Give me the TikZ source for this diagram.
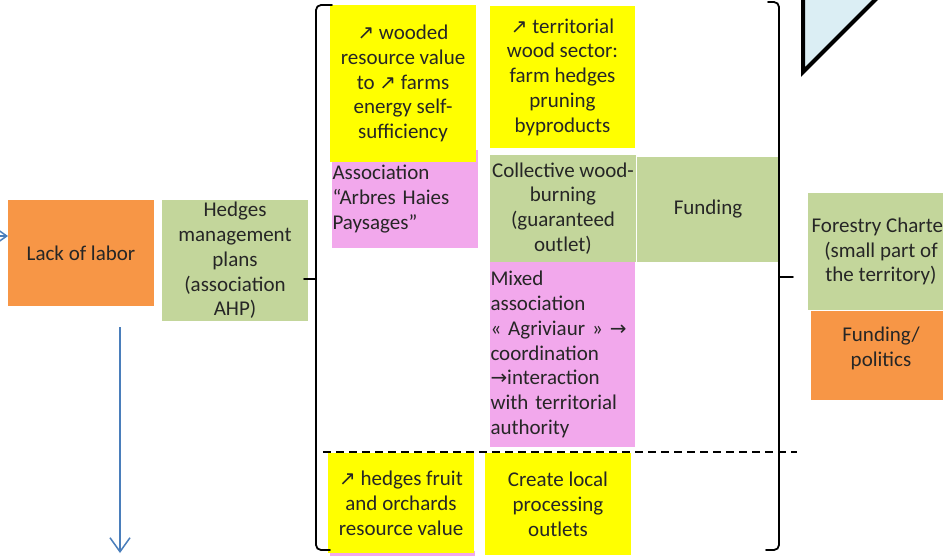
\documentclass[tikz,border=0pt]{standalone}
\usepackage{fontspec}
\setmainfont{Carlito}
\newfontfamily\symfont[Scale=0.95]{DejaVu Sans}
\usetikzlibrary{arrows.meta}
\definecolor{orangeb}{HTML}{F79646}
\definecolor{greenb}{HTML}{C3D69B}
\definecolor{yellowb}{HTML}{FFFF00}
\definecolor{pinkb}{HTML}{F2A8EC}
\definecolor{blueln}{HTML}{4A7EBB}
\definecolor{lightblue}{HTML}{DBEEF4}
\definecolor{txtc}{HTML}{262626}
\newcommand{\upar}{{\symfont ↗}}
\newcommand{\rar}{{\symfont →}}
\begin{document}
\begin{tikzpicture}[x=1pt,y=-1pt,
  box/.style={anchor=north west, inner sep=0pt, outer sep=0pt, align=center, text=txtc, font=\fontsize{21}{24.8}\selectfont},
  leftbox/.style={box, align=left, inner xsep=0.5pt},
  brace/.style={line width=1.8pt, line join=round, line cap=round},
  dashline/.style={line width=1.8pt, dash pattern=on 8pt off 5pt},
  bluearrow/.style={draw=blueln, line width=1.5pt, -{Straight Barb[length=14pt,width=20pt]}}]
\useasboundingbox (0,0) rectangle (943,555);
\clip (0,0) rectangle (943,555);
\fill[white] (0,0) rectangle (943,555);

% left column
\node[box, fill=orangeb, minimum width=146, minimum height=106] (lack) at (8,200) {Lack of labor};
\node[box, fill=greenb, minimum width=146, minimum height=121] (hmp) at (162,200) {Hedges\\management\\plans\\(association\\AHP)};

% middle column
\node[leftbox, fill=pinkb, minimum width=146, minimum height=98, text width=145] (assoc) at (332,150) {Association\\“Arbres Haies\\Paysages”};
\node[box, fill=yellowb, minimum width=146, minimum height=157] (y1) at (330,5) {\upar{} wooded\\resource value\\to \upar{} farms\\energy self-\\sufficiency};
\node[box, fill=yellowb, minimum width=145, minimum height=142] (y2) at (490,6) {\upar{} territorial\\wood sector:\\farm hedges\\pruning\\byproducts};
\node[box, fill=greenb, minimum width=142, minimum height=105] (fund) at (637,157) {Funding};
\node[box, fill=greenb, minimum width=146, minimum height=107] (coll) at (490,155) {Collective wood-\\burning\\(guaranteed\\outlet)};
\node[leftbox, fill=pinkb, minimum width=145, minimum height=185, text width=144] (mixed) at (490,262) {Mixed\\association\\« Agriviaur » \rar\\coordination\\\rar interaction\\with territorial\\authority};

\node[box, fill=pinkb, minimum width=145, minimum height=5] (strip) at (330,551) {};
\node[box, fill=yellowb, minimum width=146, minimum height=100] (y3) at (328,453) {\upar{} hedges fruit\\and orchards\\resource value};
\node[box, fill=yellowb, minimum width=146, minimum height=102] (y4) at (485,453) {Create local\\processing\\outlets};

% right column
\node[box, fill=greenb, minimum width=146, minimum height=117] (forest) at (808,193) {Forestry Charter\\(small part of\\the territory)};
\node[box, fill=orangeb, minimum width=140, minimum height=89] (fpol) at (811,311) {};
\node[box, anchor=center] (fpoltext) at ([yshift=7pt]fpol.center) {Funding/\\politics};

% triangle
\draw[line width=4pt, fill=lightblue, line join=miter] (803,-20) -- (803,72) -- (895,-20) -- cycle;

% dashed separator
\coordinate (d1) at (323,452);
\coordinate (d2) at (797,452);
\draw[dashline] (d1) -- (d2);

% braces
\draw[brace, rounded corners=5pt] (332,5) -- (316,5) -- (316,550) -- (330,550);
\draw[brace] (316,279) -- (304,279);
\draw[brace, rounded corners=5pt] (768,2) -- (779,2) -- (779,550) -- (766,550);
\draw[brace] (779,277) -- (793,277);

% blue arrows
\coordinate (la) at (-40,236);
\draw[bluearrow] (la) -- (la -| lack.west);
\coordinate (va1) at (120,327);
\coordinate (va2) at (120,553);
\draw[bluearrow] (va1) -- (va2);
\end{tikzpicture}
\end{document}
